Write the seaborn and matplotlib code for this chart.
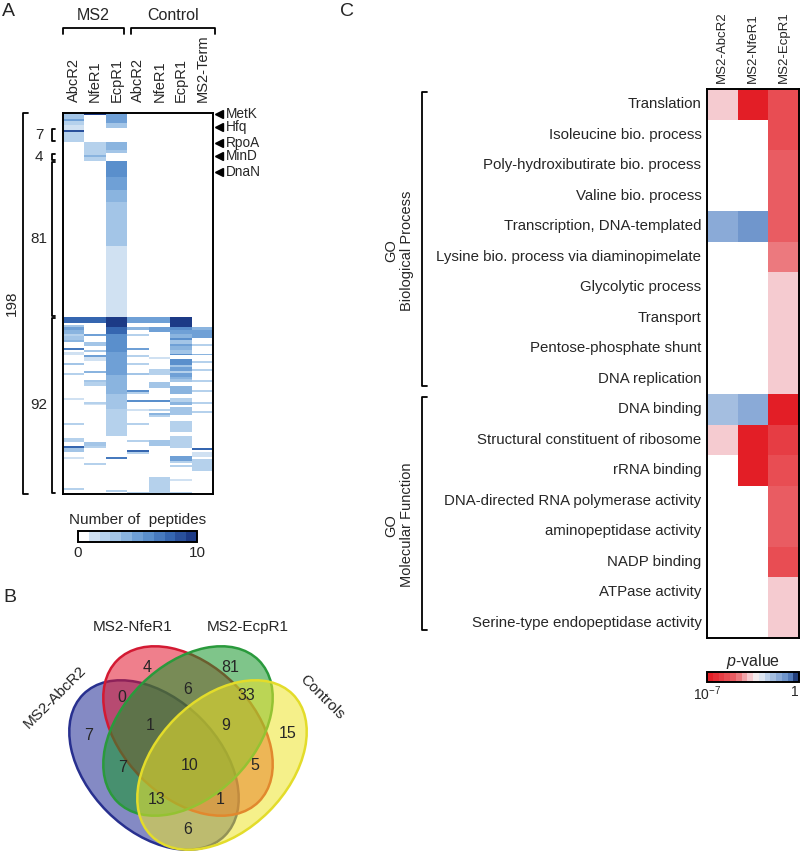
import numpy as np
import pandas as pd
import seaborn as sns
import matplotlib.pyplot as plt
from matplotlib.colors import LinearSegmentedColormap
from matplotlib.patches import Ellipse

# ---------------- data: panel A (peptide counts, run-length per column) ----------------
cols_a = ['AbcR2', 'NfeR1', 'EcpR1', 'AbcR2', 'NfeR1', 'EcpR1', 'MS2-Term']
group_sizes = [1, 7, 7, 6, 4, 81, 92]          # rows per protein group
group_labels = [None, None, '7', None, '4', '81', '92']
total_label = '198'

abcr2_top = [(3, 3), (1, 5), (2, 2), (3, 1), (1, 9), (5, 2), (10, 0)]
nfer1_top = [(1, 10), (14, 0), (6, 2), (1, 2), (1, 4), (2, 2)]
ecpr1_top = [(1, 5), (4, 5), (3, 3), (7, 0), (4, 4), (2, 3), (4, 0)]
ecpr1_mid = [(8, 6), (7, 5), (6, 4), (23, 3), (37, 1)]

abcr2_bot = [(3, 8), (1, 0), (1, 3), (2, 5), (2, 4), (1, 2), (2, 3), (1, 4), (3, 0), (1, 7), (1, 0),
             (2, 1), (4, 0), (1, 3), (4, 0), (1, 2), (12, 0), (1, 1), (12, 0), (1, 2), (7, 0), (2, 2),
             (2, 0), (1, 8), (2, 3), (3, 0), (1, 1), (15, 0), (1, 2), (2, 0)]
nfer1_bot = [(3, 8), (6, 0), (1, 5), (3, 0), (2, 3), (2, 0), (1, 3), (2, 0), (1, 5), (2, 1), (5, 0),
             (1, 4), (4, 0), (1, 3), (2, 2), (8, 0), (1, 2), (1, 1), (19, 0), (2, 3), (1, 2), (8, 0),
             (1, 2), (15, 0)]
ecpr1_bot = [(5, 10), (4, 8), (9, 6), (12, 5), (10, 4), (8, 3), (14, 2), (11, 0), (1, 7), (16, 0),
             (1, 2), (1, 0)]
c_abcr2_bot = [(3, 5), (2, 0), (2, 4), (2, 0), (1, 2), (6, 0), (1, 5), (3, 0), (1, 2), (3, 0), (1, 2),
               (4, 0), (1, 3), (8, 0), (1, 6), (1, 2), (3, 0), (1, 6), (4, 0), (1, 1), (6, 0), (1, 2),
               (8, 0), (1, 2), (4, 0), (1, 8), (1, 2), (20, 0), (1, 2)]
c_nfer1_bot = [(3, 5), (2, 0), (2, 5), (1, 5), (13, 0), (1, 1), (5, 0), (3, 2), (4, 0), (3, 3), (6, 0),
               (1, 6), (4, 0), (1, 2), (1, 0), (1, 4), (1, 2), (12, 0), (3, 3), (16, 0), (8, 2), (1, 2)]
c_ecpr1_bot = [(5, 10), (2, 6), (2, 5), (2, 4), (1, 6), (2, 3), (1, 5), (2, 4), (2, 3), (1, 6), (2, 0),
               (3, 6), (1, 3), (2, 5), (1, 2), (2, 5), (1, 4), (2, 3), (2, 0), (4, 4), (2, 0), (2, 2),
               (2, 4), (1, 0), (4, 3), (3, 0), (4, 2), (2, 2), (2, 0), (6, 2), (4, 0), (3, 5), (1, 2),
               (1, 0), (1, 2), (6, 0), (1, 1), (6, 0), (1, 2)]
term_bot = [(5, 0), (2, 4), (4, 5), (3, 0), (1, 2), (4, 0), (1, 4), (3, 0), (1, 2), (3, 0), (1, 2),
            (5, 0), (1, 2), (4, 0), (1, 2), (5, 0), (1, 2), (4, 0), (1, 2), (18, 0), (1, 8), (1, 0),
            (3, 1), (1, 0), (6, 2), (12, 0)]

marked_proteins = ['MetK', 'Hfq', 'RpoA', 'MinD', 'DnaN']
marked_rows = [0, 7, 15, 22, 30]

# ---------------- data: panel B (Venn counts) ----------------
venn_sets = ['MS2-AbcR2', 'MS2-NfeR1', 'MS2-EcpR1', 'Controls']
venn_regions = ['N', 'E', 'AN', 'NE', 'EC', 'A', 'ANE', 'NEC', 'C', 'AE', 'ANEC', 'NC', 'AEC', 'ANC', 'AC']
venn_counts = [4, 81, 0, 6, 33, 7, 1, 9, 15, 7, 10, 5, 13, 1, 6]

# ---------------- data: panel C (GO enrichment, log10 p) ----------------
cols_c = ['MS2-AbcR2', 'MS2-NfeR1', 'MS2-EcpR1']
go_terms = ['Translation', 'Isoleucine bio. process', 'Poly-hydroxibutirate bio. process',
            'Valine bio. process', 'Transcription, DNA-templated',
            'Lysine bio. process via diaminopimelate', 'Glycolytic process', 'Transport',
            'Pentose-phosphate shunt', 'DNA replication', 'DNA binding',
            'Structural constituent of ribosome', 'rRNA binding',
            'DNA-directed RNA polymerase activity', 'aminopeptidase activity', 'NADP binding',
            'ATPase activity', 'Serine-type endopeptidase activity']
go_groups = ['GO\nBiological Process', 'GO\nMolecular Function']
go_group_sizes = [10, 8]
nan = np.nan
logp_abcr2 = [-3.9, nan, nan, nan, -1.4, nan, nan, nan, nan, nan, -2.1, -3.9, nan, nan, nan, nan, nan, nan]
logp_nfer1 = [-6.8, nan, nan, nan, -1.0, nan, nan, nan, nan, nan, -1.4, -6.8, -6.8, nan, nan, nan, nan, nan]
logp_ecpr1 = [-5.6, -5.6, -5.1, -5.1, -5.2, -4.5, -3.8, -3.8, -3.8, -3.8, -6.8, -6.0, -5.6, -5.1, -5.1,
              -5.3, -3.8, -3.8]


def expand(runs, n):
    vals = np.repeat([v for _, v in runs], [k for k, _ in runs]).astype(float)
    return np.pad(vals, (0, max(0, n - len(vals))))[:n]


n_top, n_mid, n_bot = sum(group_sizes[:5]), group_sizes[5], group_sizes[6]
zero_top, zero_mid = [(n_top, 0)], [(n_mid, 0)]
columns = [
    (abcr2_top, zero_mid, abcr2_bot),
    (nfer1_top, zero_mid, nfer1_bot),
    (ecpr1_top, ecpr1_mid, ecpr1_bot),
    (zero_top, zero_mid, c_abcr2_bot),
    (zero_top, zero_mid, c_nfer1_bot),
    (zero_top, zero_mid, c_ecpr1_bot),
    (zero_top, zero_mid, term_bot),
]
mat_a = np.column_stack([np.concatenate([expand(t, n_top), expand(m, n_mid), expand(b, n_bot)])
                         for t, m, b in columns])
mat_c = pd.DataFrame({c: v for c, v in zip(cols_c, [logp_abcr2, logp_nfer1, logp_ecpr1])}, index=go_terms)

# ---------------- style ----------------
sns.set_style('white')
plt.rcParams['font.family'] = ['Liberation Sans', 'DejaVu Sans']
plt.rcParams['mathtext.fontset'] = 'custom'
plt.rcParams['mathtext.rm'] = 'Liberation Sans'
plt.rcParams['mathtext.it'] = 'Liberation Sans:italic'

W, H = 800, 852
fig = plt.figure(figsize=(W / 100, H / 100), dpi=100)


def box(x0, y0, x1, y1):
    return [x0 / W, 1 - y1 / H, (x1 - x0) / W, (y1 - y0) / H]


ov = fig.add_axes([0, 0, 1, 1])
ov.set_xlim(0, W)
ov.set_ylim(H, 0)
ov.axis('off')

# ---------------- panel A ----------------
ax_a = fig.add_axes(box(63, 113, 213, 494))
cax_a = fig.add_axes(box(78, 531, 197, 542))
pep_cmap = LinearSegmentedColormap.from_list('pep', [
    (0.0, '#ffffff'), (0.1, '#d0e1f2'), (0.2, '#b5d1ec'), (0.3, '#a3c5e7'), (0.4, '#8ab4df'),
    (0.5, '#6fa0d6'), (0.6, '#5a8fcc'), (0.8, '#3566b0'), (1.0, '#1c3a86')], N=11)
sns.heatmap(mat_a, ax=ax_a, cmap=pep_cmap, vmin=0, vmax=10, cbar_ax=cax_a,
            cbar_kws={'orientation': 'horizontal', 'ticks': [0, 10]},
            xticklabels=False, yticklabels=False)
ax_a.xaxis.tick_top()
ax_a.set_xticks(np.arange(len(cols_a)) + 0.5)
ax_a.set_xticklabels(cols_a, rotation=90, fontsize=10.5)
ax_a.tick_params(axis='x', length=0, pad=8)
for s in ax_a.spines.values():
    s.set_visible(True)
    s.set_linewidth(1.4)
    s.set_color('black')
cb_a = ax_a.collections[0].colorbar
cb_a.outline.set_linewidth(1.4)
cb_a.outline.set_edgecolor('black')
cb_a.ax.tick_params(length=0, labelsize=11, pad=3)
cb_a.ax.set_xticklabels(['0', '10'])
cax_a.set_title('Number of  peptides', fontsize=11, pad=5)


def px_a(px):
    return (px - 63) / 150 * len(cols_a)


def bracket(ax, x, y0, y1, tick, lw=1.3):
    ax.plot([x + tick, x, x, x + tick], [y0, y0, y1, y1], color='black', lw=lw, clip_on=False)


nrows = mat_a.shape[0]
bracket(ax_a, px_a(23), 0, nrows, px_a(28) - px_a(23))
ax_a.text(px_a(12), nrows / 2, total_label, rotation=90, ha='center', va='center', fontsize=11)
starts = np.concatenate([[0], np.cumsum(group_sizes)])
for lab, s0, s1 in zip(group_labels, starts[:-1], starts[1:]):
    if lab is None:
        continue
    bracket(ax_a, px_a(52), s0 + 0.4, s1 - 0.4, px_a(55) - px_a(52))
    ax_a.text(px_a(39), (s0 + s1) / 2, lab, ha='center', va='center', fontsize=11)

for name, r in zip(marked_proteins, marked_rows):
    ax_a.plot(px_a(219), r + 0.5, marker='<', color='black', markersize=6, clip_on=False)
    ax_a.text(px_a(226), r + 0.5, name, ha='left', va='center', fontsize=9.8)

ov.text(8, 11, 'A', fontsize=14, ha='center', va='center')
for lab, x0, x1 in [('MS2', 63, 124), ('Control', 131, 215)]:
    ov.plot([x0, x0, x1, x1], [34, 28, 28, 34], color='black', lw=1.3)
    ov.text((x0 + x1) / 2, 15, lab, fontsize=11.5, ha='center', va='center')

# ---------------- panel B (Venn) ----------------
ov.text(10, 598, 'B', fontsize=14, ha='center', va='center')
ellipses = [  # set, centre, angle, face, edge
    ('MS2-AbcR2', (154, 765), 45, '#1f2b94', '#28308f'),
    ('MS2-NfeR1', (188, 731), 45, '#e2162e', '#d31a33'),
    ('MS2-EcpR1', (188, 731), -45, '#16962a', '#2a9a3c'),
    ('Controls', (222, 765), -45, '#ede42a', '#e3dc2a'),
]
for name, c, ang, fc, ec in ellipses:
    ov.add_patch(Ellipse(c, 200, 132, angle=ang, facecolor=fc, alpha=0.55, lw=0))
    ov.add_patch(Ellipse(c, 200, 132, angle=ang, facecolor='none', edgecolor=ec, lw=1.8))

region_xy = {'N': (147, 667), 'E': (230, 667), 'AN': (122, 698), 'NE': (188, 690), 'EC': (246, 695),
             'A': (89, 735), 'ANE': (150, 725), 'NEC': (226, 725), 'C': (288, 733), 'AE': (123, 767),
             'ANEC': (190, 765), 'NC': (255, 765), 'AEC': (157, 800), 'ANC': (220, 800), 'AC': (188, 830)}
for reg, n in zip(venn_regions, venn_counts):
    x, y = region_xy[reg]
    ov.text(x, y, str(n), fontsize=11.5, ha='center', va='center')

set_label_pos = {'MS2-AbcR2': (55, 697, 45), 'MS2-NfeR1': (133, 627, 0),
                 'MS2-EcpR1': (248, 627, 0), 'Controls': (322, 697, -45)}
for name in venn_sets:
    x, y, rot = set_label_pos[name]
    ov.text(x, y, name, fontsize=11, ha='center', va='center', rotation=rot, rotation_mode='anchor')

# ---------------- panel C ----------------
ax_c = fig.add_axes(box(707, 89, 799, 638))
cax_c = fig.add_axes(box(707, 672, 799, 682))
p_cmap = LinearSegmentedColormap.from_list('pval', [
    (0.0, '#e31e26'), (0.3, '#ea6469'), (0.45, '#f5c3c8'), (0.55, '#f4f4f6'),
    (0.65, '#c5d6ec'), (0.8, '#8aaad7'), (0.92, '#5b86c4'), (1.0, '#233f7c')], N=16)
sns.heatmap(mat_c, ax=ax_c, cmap=p_cmap, vmin=-7, vmax=0, cbar_ax=cax_c,
            cbar_kws={'orientation': 'horizontal', 'ticks': [-7, 0]},
            xticklabels=cols_c, yticklabels=go_terms)
ax_c.xaxis.tick_top()
ax_c.set_xticklabels(cols_c, rotation=90, fontsize=9.5)
ax_c.set_yticklabels(go_terms, rotation=0, fontsize=10.8)
ax_c.tick_params(axis='both', length=0, pad=4)
for s in ax_c.spines.values():
    s.set_visible(True)
    s.set_linewidth(1.4)
    s.set_color('black')
cb_c = ax_c.collections[0].colorbar
cb_c.outline.set_linewidth(1.4)
cb_c.outline.set_edgecolor('black')
cb_c.ax.tick_params(length=0, labelsize=10, pad=2)
cb_c.ax.set_xticklabels([r'10$^{-7}$', '1'])
cb_c.ax.get_xticklabels()[-1].set_horizontalalignment('right')
cax_c.set_title(r'$p$-value', fontsize=11.5, pad=4)


def px_c(px):
    return (px - 707) / 92 * len(cols_c)


ov.text(347, 11, 'C', fontsize=14, ha='center', va='center')
g0 = 0
for lab, n in zip(go_groups, go_group_sizes):
    bracket(ax_c, px_c(422), g0 + 0.1, g0 + n - 0.25, px_c(427) - px_c(422))
    ax_c.text(px_c(399), g0 + n / 2 + 0.3, lab, rotation=90, ha='center', va='center',
              multialignment='center', fontsize=10.5, linespacing=1.1)
    g0 += n

fig.savefig('out.png', dpi=100)
